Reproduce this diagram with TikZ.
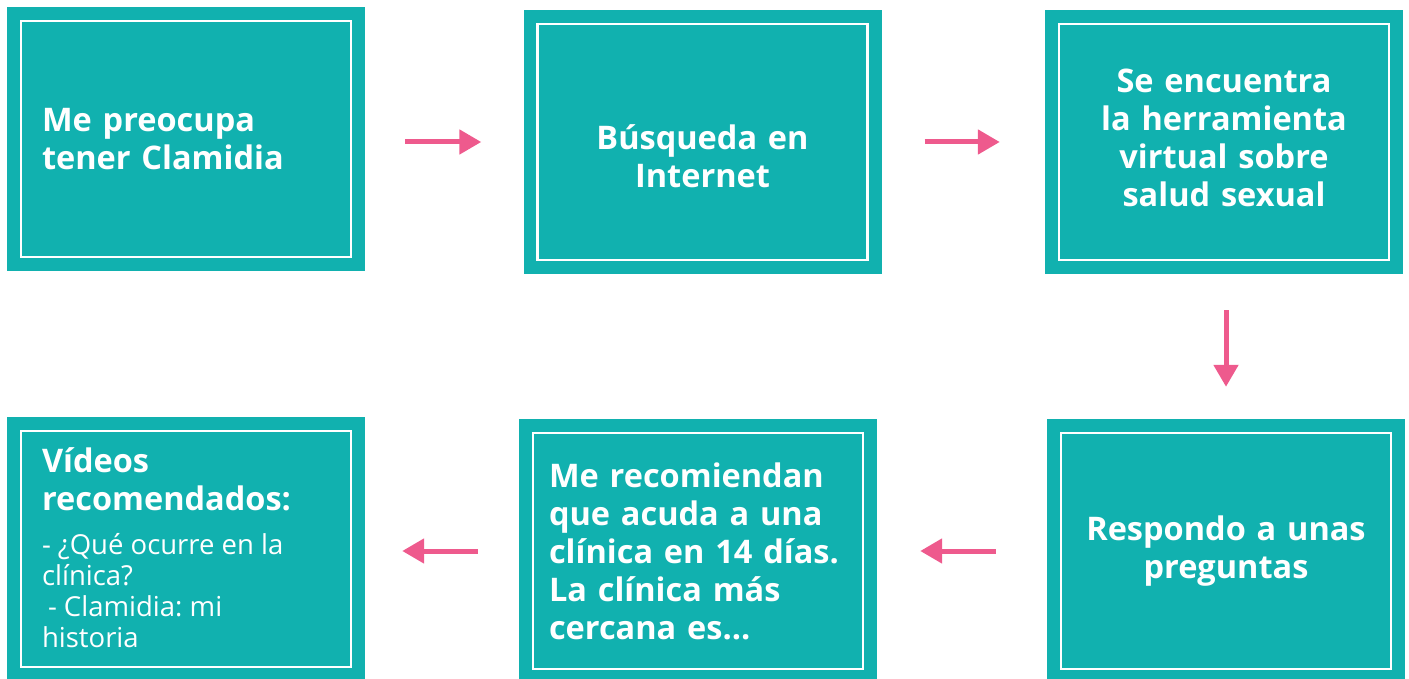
\documentclass[tikz,border=0pt]{standalone}
\usepackage{fontspec}
\setmainfont{Open Sans}
\usetikzlibrary{arrows.meta}
\definecolor{boxteal}{HTML}{11B1AF}
\definecolor{flowpink}{HTML}{EE5A8D}
\frenchspacing
\begin{document}
\begin{tikzpicture}[x=1pt,y=-1pt,
  stepbox/.style={fill=boxteal,minimum width=358pt,minimum height=264pt,inner sep=0pt,
    text=white,font=\bfseries\fontsize{32.5}{38}\selectfont},
  frame/.style={draw=white,line width=2.5pt},
  flow/.style={draw=flowpink,line width=5pt,-{Triangle[length=22pt,width=24pt]}}]
\useasboundingbox (0,0) rectangle (1409,679);
\node[stepbox,text width=288pt,align=left] (b1) at (186,139) {Me preocupa\\tener Clamidia};
\node[stepbox,text width=300pt,align=center] (b2) at (702.5,142) {Búsqueda en\\Internet\par\vspace*{-28pt}};
\node[stepbox,text width=300pt,align=center] (b3) at (1224,142) {Se encuentra\\la herramienta\\virtual sobre\\salud sexual\par\vspace*{8pt}};
\node[stepbox,text width=300pt,align=center] (b4) at (1226,551) {Respondo a unas\\preguntas};
\node[stepbox,text width=298pt,align=left] (b5) at (698,551) {Me recomiendan\\que acuda a una\\clínica en 14 días.\\La clínica más\\cercana es...};
\node[stepbox,text width=288pt,align=left] (b6) at (186,549) {Vídeos\\recomendados:\par\vspace*{13pt}
  \mdseries\fontsize{27.5}{31}\selectfont\spaceskip=0pt\xspaceskip=0pt\frenchspacing
  - ¿Qué ocurre en la\par clínica?\par\hspace*{6pt}- Clamidia: mi\par historia\par\vspace*{2pt}};
\foreach \n in {b1,b2,b3,b4,b5,b6}
  \draw[frame] ([shift={(14,14)}]\n.north west) rectangle ([shift={(-14,-14)}]\n.south east);
\draw[flow,shorten <=40pt,shorten >=42pt] (b1.east |- b2.west) -- (b2.west);
\draw[flow,shorten <=43pt,shorten >=45pt] (b2.east) -- (b3.west);
\draw[flow,shorten <=36pt,shorten >=32pt] (b3.south -| b4.north) -- (b4.north);
\draw[flow,shorten <=51pt,shorten >=43pt] (b4.west) -- (b5.east);
\draw[flow,shorten <=41pt,shorten >=37pt] (b5.west) -- (b6.east |- b5.west);
\end{tikzpicture}
\end{document}
